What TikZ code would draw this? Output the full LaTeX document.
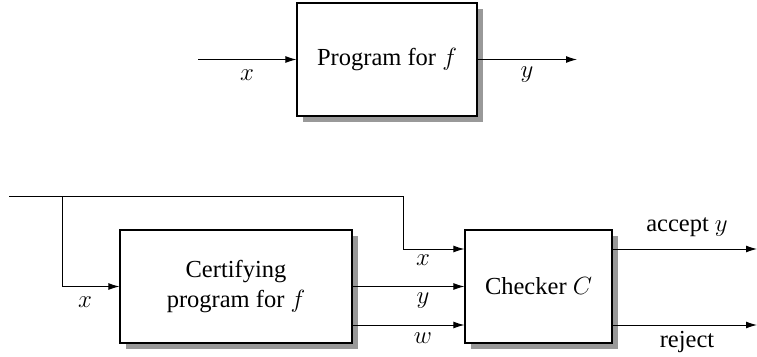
\documentclass[tikz,border=0pt]{standalone}
\usepackage{fontspec}
\setmainfont{Liberation Serif}
\usetikzlibrary{arrows.meta,shadows}
\tikzset{
  blk/.style={draw, line width=1.2pt, fill=white, minimum height=113pt,
    inner sep=0pt, align=center,
    drop shadow={shadow xshift=6pt, shadow yshift=-6pt, fill=black!40, opacity=1}},
  wire/.style={line width=1pt},
  arr/.style={wire, -{Latex[length=11pt,width=7pt]}},
  lbl/.style={inner sep=0pt}
}
\begin{document}
\begin{tikzpicture}[x=1pt, y=-1pt, font=\fontsize{24.5}{30}\selectfont]
\useasboundingbox (0,0) rectangle (757,356);

% plain program
\node[blk, minimum width=180pt] (prog) at (387,59.5) {Program for $f$};
\coordinate (pin) at (198,59.5);
\coordinate (pout) at (577,59.5);
\draw[arr] (pin) -- (prog.west);
\draw[arr] (prog.east) -- (pout);
\node[lbl] (px) at (247,75) {$x$};
\node[lbl] (py) at (527,75) {$y$};

% certifying program and checker
\node[blk, minimum width=232pt] (cert) at (236,286.5) {Certifying\\program for $f$};
\node[blk, minimum width=147pt] (chk) at (538.5,286.5) {Checker $C$};

\coordinate (src) at (9,196);
\coordinate (split) at (62,196);
\coordinate (bend) at (403,196);
\draw[wire] (src) -- (bend);
\draw[arr] (split) |- (cert.west);
\draw[arr] (bend) |- ([yshift=37.5pt]chk.west);
\draw[arr] (cert.east) -- (chk.west);
\draw[arr] ([yshift=-38.5pt]cert.east) -- ([yshift=-38.5pt]chk.west);

\coordinate (acc) at (757,249);
\coordinate (rej) at (757,325);
\draw[arr] (chk.east |- acc) -- (acc);
\draw[arr] (chk.east |- rej) -- (rej);

\node[lbl] (cx) at (85,302) {$x$};
\node[lbl] (kx) at (423,260) {$x$};
\node[lbl] (ky) at (423,301) {$y$};
\node[lbl] (kw) at (423,338) {$w$};
\node[lbl] (ta) at (687,227) {accept $y$};
\node[lbl] (tr) at (687,342) {reject};
\end{tikzpicture}
\end{document}
